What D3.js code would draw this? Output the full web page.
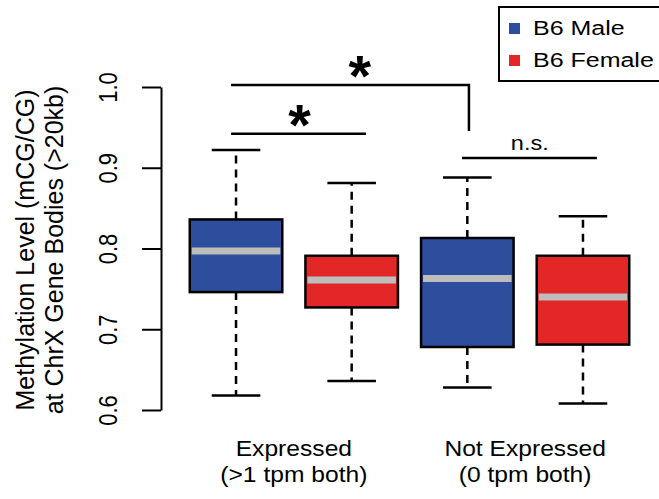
<!DOCTYPE html>
<html><head><meta charset="utf-8">
<script src="https://cdn.jsdelivr.net/npm/d3@7"></script>
<style>
body{margin:0;background:#fff;}
svg{display:block;}
text{font-family:"Liberation Sans",Arial,Helvetica,sans-serif;fill:#000;}
</style></head>
<body><svg id="c" width="659" height="499"></svg>
<script>
// ---- data ----
const groups = ["Expressed", "Not Expressed"];
const groupSub = ["(>1 tpm both)", "(0 tpm both)"];
const series = ["B6 Male", "B6 Female"];
const boxSeries = [0, 1, 0, 1];
const boxPos = [1, 2, 3, 4];
const whiskerLow = [0.618, 0.636, 0.628, 0.608];
const q1 = [0.746, 0.727, 0.678, 0.681];
const median = [0.797, 0.761, 0.763, 0.740];
const q3 = [0.836, 0.791, 0.813, 0.791];
const whiskerHigh = [0.922, 0.881, 0.888, 0.840];
const yTicks = [0.6, 0.7, 0.8, 0.9, 1.0];
const colors = ["#2d4e9c", "#e32726"];

const svg = d3.select("#c");
const x = d3.scaleLinear().domain([0.5, 4.5]).range([178.2, 640.8]);
const y = d3.scaleLinear().domain([0.6, 1.0]).range([410, 87]);
const ux = x(1) - x(0);

// axis
const yAxis = d3.axisLeft(y).tickValues(yTicks).tickFormat(d3.format(".1f")).tickSize(19).tickSizeOuter(0);
const ag = svg.append("g").attr("transform", "translate(161,0)").call(yAxis);
ag.select(".domain").attr("stroke", "#000").attr("stroke-width", 2);
ag.selectAll(".tick line").attr("stroke", "#000").attr("stroke-width", 2);
ag.selectAll(".tick text")
  .attr("font-size", 22).attr("text-anchor", "middle")
  .attr("x", null).attr("dy", null)
  .attr("transform", "translate(-44,0) rotate(-90) scale(1,1.15)")
  .attr("font-family", '"Liberation Sans",Arial,sans-serif');

// axis title
const tg = svg.append("g").attr("transform", "translate(0,250) rotate(-90)");
tg.append("text").attr("x", 0).attr("y", 34).attr("text-anchor", "middle").attr("font-size", 25)
  .text("Methylation Level (mCG/CG)");
tg.append("text").attr("x", 0).attr("y", 63).attr("text-anchor", "middle").attr("font-size", 25)
  .text("at ChrX Gene Bodies (>20kb)");

// boxes
const bw = 0.8 * ux, cw = 0.42 * ux;
const bg = svg.append("g");
boxPos.forEach((p, i) => {
  const cx = x(p);
  bg.append("line").attr("x1", cx).attr("x2", cx).attr("y1", y(q3[i])).attr("y2", y(whiskerHigh[i]))
    .attr("stroke", "#000").attr("stroke-width", 2.5).attr("stroke-dasharray", "8,6");
  bg.append("line").attr("x1", cx).attr("x2", cx).attr("y1", y(q1[i])).attr("y2", y(whiskerLow[i]))
    .attr("stroke", "#000").attr("stroke-width", 2.5).attr("stroke-dasharray", "8,6");
  [whiskerHigh[i], whiskerLow[i]].forEach(v => {
    bg.append("line").attr("x1", cx - cw / 2).attr("x2", cx + cw / 2).attr("y1", y(v)).attr("y2", y(v))
      .attr("stroke", "#000").attr("stroke-width", 2.5);
  });
  bg.append("rect").attr("x", cx - bw / 2).attr("width", bw)
    .attr("y", y(q3[i])).attr("height", y(q1[i]) - y(q3[i]))
    .attr("fill", colors[boxSeries[i]]).attr("stroke", "#000").attr("stroke-width", 2.5);
  bg.append("line").attr("x1", cx - bw / 2 + 2).attr("x2", cx + bw / 2 - 2)
    .attr("y1", y(median[i])).attr("y2", y(median[i]))
    .attr("stroke", "#bdbdbd").attr("stroke-width", 7);
});

// group labels
function stretched(sel, cx, k) {
  return sel.attr("transform", `translate(${cx},0) scale(${k},1) translate(${-cx},0)`);
}
groups.forEach((g, i) => {
  const cx = (x(boxPos[2 * i]) + x(boxPos[2 * i + 1])) / 2;
  stretched(svg.append("text").attr("x", cx).attr("y", 456).attr("text-anchor", "middle").attr("font-size", 22), cx, 1.12).text(g);
  stretched(svg.append("text").attr("x", cx).attr("y", 482).attr("text-anchor", "middle").attr("font-size", 22), cx, 1.12).text(groupSub[i]);
});

// significance annotations
const ann = svg.append("g").attr("stroke", "#000").attr("stroke-width", 2.5).attr("fill", "none");
ann.append("line").attr("x1", x(0.957)).attr("x2", x(2.124)).attr("y1", y(0.942)).attr("y2", y(0.942));
ann.append("path").attr("d", `M${x(0.957)},${y(1.0025)}H${x(3.014)}V${y(0.9455)}`);
ann.append("line").attr("x1", x(2.954)).attr("x2", x(4.12)).attr("y1", y(0.912)).attr("y2", y(0.912));
svg.append("text").attr("x", x(1.55)).attr("y", y(0.942) + 11).attr("text-anchor", "middle")
  .attr("font-size", 58).attr("font-weight", "bold").text("*");
svg.append("text").attr("x", x(2.07)).attr("y", y(1.0025) + 11).attr("text-anchor", "middle")
  .attr("font-size", 58).attr("font-weight", "bold").text("*");
stretched(svg.append("text").attr("x", x(3.54)).attr("y", 150).attr("text-anchor", "middle").attr("font-size", 21), x(3.54), 1.12).text("n.s.");

// legend
const lg = svg.append("g");
lg.append("rect").attr("x", 499).attr("y", 7).attr("width", 200).attr("height", 74)
  .attr("fill", "#fff").attr("stroke", "#000").attr("stroke-width", 2);
series.forEach((s, i) => {
  const yy = 29 + i * 32;
  lg.append("rect").attr("x", 509).attr("y", yy - 6).attr("width", 11).attr("height", 11).attr("fill", colors[i]);
  stretched(lg.append("text").attr("x", 533).attr("y", yy + 6).attr("font-size", 20), 533, 1.25).text(s);
});
</script></body></html>
